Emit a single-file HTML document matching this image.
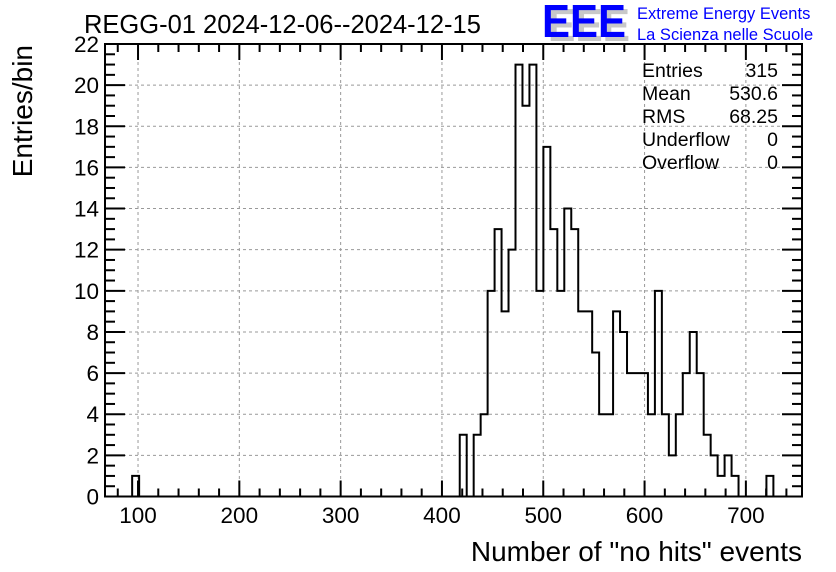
<!DOCTYPE html>
<html><head><meta charset="utf-8"><style>
body{margin:0;background:#fff;}
svg{display:block;font-family:"Liberation Sans",Arial,sans-serif;}
</style></head><body>
<svg id="c" width="836" height="572" viewBox="0 0 836 572">
<rect width="836" height="572" fill="#fff"/>
<text x="84" y="33" font-size="25.5" fill="#000">REGG-01 2024-12-06--2024-12-15</text>
<g>
<text x="548" y="41" font-size="46" font-weight="bold" fill="#c8c8c8" textLength="82" lengthAdjust="spacingAndGlyphs">EEE</text>
<text x="542" y="37" font-size="46" font-weight="bold" fill="#0000ff" textLength="84" lengthAdjust="spacingAndGlyphs">EEE</text>
<text x="637" y="19" font-size="16.5" fill="#0000ff">Extreme Energy Events</text>
<text x="637" y="40" font-size="16.5" fill="#0000ff">La Scienza nelle Scuole</text>
</g>
<g id="grid"></g>
<g id="axes"></g>
<path id="hist" fill="none" stroke="#000" stroke-width="2"/>
<g font-size="19.5">
<text x="642" y="77">Entries</text><text x="778" y="77" text-anchor="end">315</text>
<text x="642" y="100">Mean</text><text x="778" y="100" text-anchor="end">530.6</text>
<text x="642" y="123">RMS</text><text x="778" y="123" text-anchor="end">68.25</text>
<text x="642" y="146">Underflow</text><text x="778" y="146" text-anchor="end">0</text>
<text x="642" y="169">Overflow</text><text x="778" y="169" text-anchor="end">0</text>
</g>
<text x="802" y="561" font-size="28" text-anchor="end">Number of "no hits" events</text>
<text transform="translate(32,45) rotate(-90)" font-size="28" text-anchor="end">Entries/bin</text>
</svg>
<script>
const binStart = 94.2;
const binWidth = 6.88;
const peakStartIndex = 47;
const peakCounts = [3,0,3,4,10,13,9,12,21,19,21,10,17,13,10,14,13,9,9,7,4,4,9,8,6,6,6,4,10,4,2,4,6,8,6,3,2,1,2,1];
const isolatedBins = [0, 91];
const isolatedCounts = [1, 1];
const xTicks = [100,200,300,400,500,600,700];
const yTicks = [0,2,4,6,8,10,12,14,16,18,20,22];

const L=105,R=802,T=44,B=496.5;
const xMin=67.4, xMax=755.4, yMax=22;
const X=v=>L+(v-xMin)/(xMax-xMin)*(R-L);
const Y=v=>B-v/yMax*(B-T);
const NS='http://www.w3.org/2000/svg';
function mk(tag,attrs,parent){const e=document.createElementNS(NS,tag);for(const k in attrs)e.setAttribute(k,attrs[k]);parent.appendChild(e);return e;}

const counts=new Array(100).fill(0);
peakCounts.forEach((c,i)=>counts[peakStartIndex+i]=c);
isolatedBins.forEach((b,i)=>counts[b]=isolatedCounts[i]);

let d='M'+X(binStart)+','+Y(0);
for(let i=0;i<counts.length;i++){
  const x0=X(binStart+i*binWidth), x1=X(binStart+(i+1)*binWidth);
  if(x1>R) break;
  d+=' L'+x0+','+Y(counts[i])+' L'+x1+','+Y(counts[i]);
}
document.getElementById('hist').setAttribute('d',d);

const grid=document.getElementById('grid');


xTicks.forEach(v=>{const l=mk('line',{x1:X(v),x2:X(v),y1:T,y2:B,stroke:'#999','stroke-dasharray':'3,3','stroke-width':1},grid);

});
yTicks.forEach(v=>{if(v===0||v===yMax)return;const l=mk('line',{x1:L,x2:R,y1:Y(v),y2:Y(v),stroke:'#999','stroke-dasharray':'3,3','stroke-width':1},grid);

});

const ax=document.getElementById('axes');


const fr=mk('rect',{x:L,y:T,width:R-L,height:B-T,fill:'none',stroke:'#000','stroke-width':2},ax);


for(let v=80;v<=xMax;v+=20){
  const major=v%100===0, len=major?16:8;
  mk('line',{x1:X(v),x2:X(v),y1:B,y2:B-len,stroke:'#000','stroke-width':2},ax);
  mk('line',{x1:X(v),x2:X(v),y1:T,y2:T+len,stroke:'#000','stroke-width':2},ax);
}
xTicks.forEach(v=>{const t=mk('text',{x:X(v),y:523,'font-size':22.5,'text-anchor':'middle'},ax);t.textContent=v;

});
for(let v=0;v<=yMax;v+=0.5){
  const major=v%2===0, len=major?20:10;
  mk('line',{x1:L,x2:L+len,y1:Y(v),y2:Y(v),stroke:'#000','stroke-width':2},ax);
  mk('line',{x1:R,x2:R-len,y1:Y(v),y2:Y(v),stroke:'#000','stroke-width':2},ax);
}
yTicks.forEach(v=>{const t=mk('text',{x:99,y:Y(v)+8,'font-size':22.5,'text-anchor':'end'},ax);t.textContent=v;

});
</script>
</body></html>
